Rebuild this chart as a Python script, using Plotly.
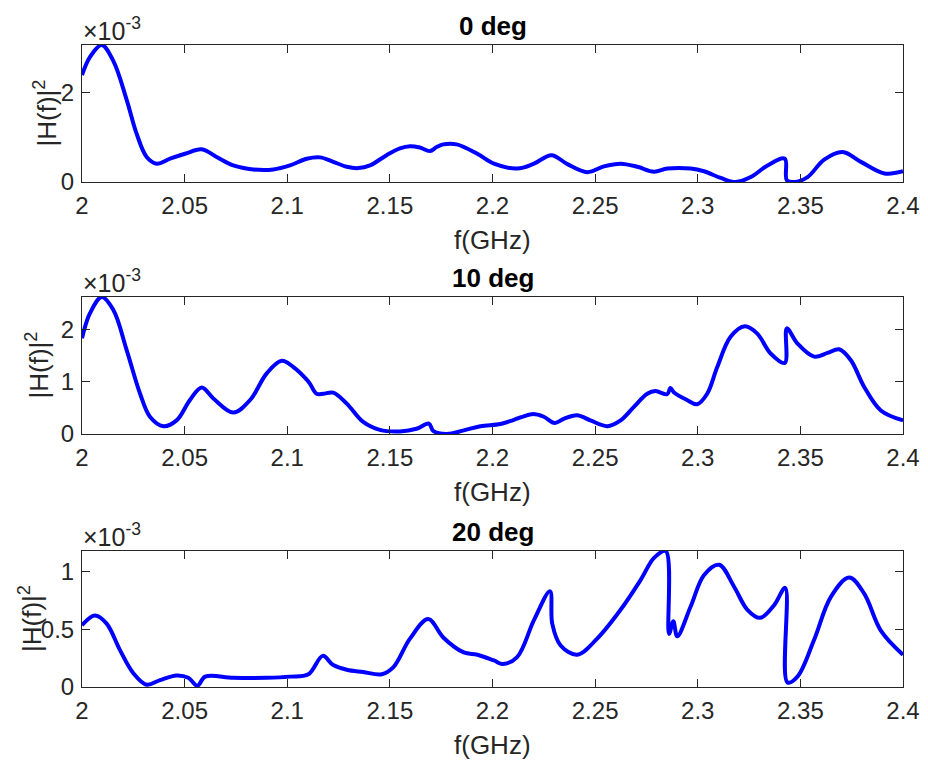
import plotly.graph_objects as go

W, H = 928, 761

# |H(f)|^2 values are stored in units of 1e-3 (the axes carry a x10^-3 multiplier)
freq_0deg = [2.000, 2.004, 2.0096, 2.0153, 2.0218, 2.0266, 2.0315, 2.0364, 2.0429, 2.0502,
             2.0583, 2.0656, 2.0737, 2.0835, 2.0932, 2.1013, 2.1095, 2.116, 2.1224, 2.129,
             2.1346, 2.1403, 2.1484, 2.1549, 2.1598, 2.1646, 2.1695, 2.1728, 2.176, 2.1825,
             2.1926, 2.2007, 2.212, 2.2202, 2.2287, 2.2365, 2.2462, 2.2543, 2.2624, 2.2706,
             2.2787, 2.2852, 2.2966, 2.303, 2.3112, 2.3185, 2.3258, 2.334, 2.3424, 2.3434,
             2.347, 2.3535, 2.3616, 2.3706, 2.3795, 2.3910, 2.400]
h2_0deg = [2.39, 2.80, 3.06, 2.70, 1.83, 1.08, 0.56, 0.41, 0.52, 0.63,
           0.73, 0.56, 0.37, 0.28, 0.28, 0.37, 0.52, 0.55, 0.45, 0.34,
           0.31, 0.37, 0.60, 0.75, 0.80, 0.77, 0.69, 0.78, 0.84, 0.84,
           0.63, 0.41, 0.30, 0.41, 0.60, 0.40, 0.22, 0.35, 0.41, 0.34,
           0.23, 0.30, 0.30, 0.24, 0.09, 0.00, 0.11, 0.37, 0.52, 0.04,
           0.00, 0.11, 0.50, 0.67, 0.45, 0.19, 0.24]

freq_10deg = [2.000, 2.0039, 2.0096, 2.0153, 2.0218, 2.0283, 2.0331, 2.0396, 2.0461, 2.0526,
              2.0583, 2.064, 2.0737, 2.0819, 2.090, 2.0973, 2.103, 2.1095, 2.1111, 2.1143,
              2.1176, 2.1224, 2.129, 2.137, 2.1451, 2.1549, 2.163, 2.169, 2.1711, 2.1776,
              2.186, 2.1941, 2.2039, 2.2104, 2.2193, 2.225, 2.2303, 2.2347, 2.2412, 2.2477,
              2.2559, 2.2624, 2.2689, 2.2754, 2.2794, 2.2851, 2.2867, 2.2883, 2.2948, 2.2997,
              2.3046, 2.3095, 2.316, 2.323, 2.329, 2.3355, 2.3424, 2.3434, 2.3486, 2.3567,
              2.3632, 2.3689, 2.3746, 2.3811, 2.3892, 2.400]
h2_10deg = [1.83, 2.31, 2.62, 2.37, 1.60, 0.77, 0.33, 0.15, 0.26, 0.65,
            0.89, 0.68, 0.41, 0.65, 1.16, 1.40, 1.28, 1.04, 0.96, 0.77,
            0.77, 0.79, 0.58, 0.23, 0.08, 0.05, 0.10, 0.20, 0.06, 0.00,
            0.07, 0.15, 0.19, 0.27, 0.38, 0.33, 0.21, 0.29, 0.36, 0.26,
            0.15, 0.26, 0.52, 0.77, 0.82, 0.76, 0.88, 0.80, 0.65, 0.57,
            0.77, 1.28, 1.86, 2.06, 1.92, 1.54, 1.36, 2.02, 1.73, 1.48,
            1.55, 1.62, 1.41, 0.90, 0.45, 0.26]

freq_20deg = [2.000, 2.0063, 2.012, 2.0185, 2.025, 2.0315, 2.038, 2.0461, 2.0518, 2.0562,
              2.060, 2.0737, 2.090, 2.1013, 2.1103, 2.1173, 2.1224, 2.129, 2.137, 2.146,
              2.1516, 2.1598, 2.1687, 2.176, 2.186, 2.1926, 2.2007, 2.205, 2.212, 2.2202,
              2.228, 2.2291, 2.2332, 2.2413, 2.251, 2.2624, 2.2722, 2.2787, 2.2844, 2.286,
              2.2881, 2.290, 2.2966, 2.303, 2.3104, 2.3177, 2.3242, 2.3304, 2.3372, 2.3426,
              2.3437, 2.3486, 2.3567, 2.3648, 2.3738, 2.3811, 2.3892, 2.400]
h2_20deg = [0.536, 0.62, 0.55, 0.32, 0.12, 0.02, 0.06, 0.10, 0.08, 0.01,
            0.09, 0.08, 0.08, 0.09, 0.11, 0.27, 0.19, 0.15, 0.13, 0.11,
            0.17, 0.42, 0.59, 0.43, 0.30, 0.28, 0.23, 0.20, 0.26, 0.58,
            0.83, 0.55, 0.36, 0.28, 0.42, 0.67, 0.93, 1.12, 1.18, 0.46,
            0.57, 0.44, 0.70, 0.97, 1.06, 0.87, 0.67, 0.60, 0.71, 0.86,
            0.04, 0.09, 0.41, 0.78, 0.95, 0.81, 0.49, 0.28]

titles = ["0 deg", "10 deg", "20 deg"]
x_ticks = [2, 2.05, 2.1, 2.15, 2.2, 2.25, 2.3, 2.35, 2.4]
x_ticklabels = ["2", "2.05", "2.1", "2.15", "2.2", "2.25", "2.3", "2.35", "2.4"]
y_ticks = [[0, 2], [0, 1, 2], [0, 0.5, 1]]
y_ticklabels = [["0", "2"], ["0", "1", "2"], ["0", "0.5", "1"]]

series = [(freq_0deg, h2_0deg), (freq_10deg, h2_10deg), (freq_20deg, h2_20deg)]

# axes boxes in pixels: (top, bottom); shared left/right edges
LEFT, RIGHT = 82, 903
BOXES = [(45, 182), (297, 434), (551, 687)]
YLABEL_X = [46, 38, 30]

AX = "#262626"
FONT = "Liberation Sans, Arial, Helvetica, sans-serif"
TICK_SIZE = 24
LABEL_SIZE = 26


def px_x(p):
    return p / W


def px_y(p):
    return 1 - p / H


fig = go.Figure()
annotations = []

for i, ((fx, hy), (top, bot)) in enumerate(zip(series, BOXES)):
    n = "" if i == 0 else str(i + 1)
    fig.add_trace(go.Scatter(
        x=fx, y=hy, mode="lines",
        line=dict(color="#0000FF", width=4, shape="spline", smoothing=1.0),
        xaxis="x" + n, yaxis="y" + n, showlegend=False, hoverinfo="x+y",
    ))
    common = dict(
        showline=True, linecolor=AX, linewidth=1, mirror="ticks",
        ticks="inside", ticklen=8, tickwidth=1, tickcolor=AX,
        showgrid=False, zeroline=False, automargin=False,
        tickfont=dict(family=FONT, size=TICK_SIZE, color=AX),
    )
    fig.update_layout(**{
        "xaxis" + n: dict(
            common, domain=[px_x(LEFT), px_x(RIGHT)], anchor="y" + n,
            range=[2, 2.4], tickmode="array", tickvals=x_ticks,
            ticktext=x_ticklabels, ticklabelstandoff=2,
        ),
        "yaxis" + n: dict(
            common, domain=[px_y(bot), px_y(top)], anchor="x" + n,
            range=[0, max(hy)], tickmode="array", tickvals=y_ticks[i],
            ticktext=y_ticklabels[i], ticklabelstandoff=2,
        ),
    })
    mid_x = (LEFT + RIGHT) / 2
    mid_y = (top + bot) / 2
    # subplot title
    annotations.append(dict(
        text="<b>" + titles[i] + "</b>", x=px_x(mid_x), y=px_y(top - 19),
        xref="paper", yref="paper", xanchor="center", yanchor="middle",
        showarrow=False, font=dict(family=FONT, size=LABEL_SIZE, color="black"),
    ))
    # x-axis label
    annotations.append(dict(
        text="f(GHz)", x=px_x(mid_x), y=px_y(bot + 58),
        xref="paper", yref="paper", xanchor="center", yanchor="middle",
        showarrow=False, font=dict(family=FONT, size=LABEL_SIZE, color=AX),
    ))
    # y-axis label
    annotations.append(dict(
        text="|H(f)|<sup>2</sup>", x=px_x(YLABEL_X[i]), y=px_y(mid_y),
        xref="paper", yref="paper", xanchor="center", yanchor="middle",
        textangle=-90, showarrow=False,
        font=dict(family=FONT, size=LABEL_SIZE, color=AX),
    ))
    # exponent multiplier
    annotations.append(dict(
        text="\u00d710<sup>-3</sup>", x=px_x(LEFT - 1), y=px_y(top + 2),
        xref="paper", yref="paper", xanchor="left", yanchor="bottom",
        showarrow=False, font=dict(family=FONT, size=25, color=AX),
    ))

fig.update_layout(
    width=W, height=H, margin=dict(l=0, r=0, t=0, b=0),
    paper_bgcolor="white", plot_bgcolor="white",
    annotations=annotations,
)

fig.write_html("out.html")
